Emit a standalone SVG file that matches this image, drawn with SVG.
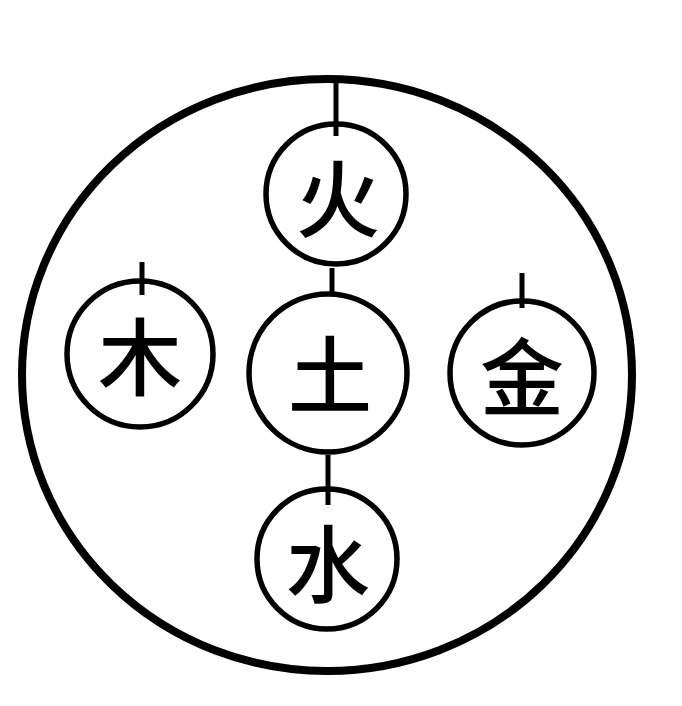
<svg xmlns="http://www.w3.org/2000/svg" width="682" height="706" viewBox="0 0 682 706">
<style>
.bg{fill:#fff}
.outer{fill:none;stroke:#000;stroke-width:8}
.node{fill:none;stroke:#000;stroke-width:5.5}
.lbl{font-family:"Noto Sans CJK SC","Noto Sans CJK JP",sans-serif;font-size:84px;font-weight:500;fill:#000;text-anchor:middle;dominant-baseline:central}
.link{stroke:#000;stroke-width:5;fill:none}
</style>
<rect class="bg" x="0" y="0" width="682" height="706"/>
<g id="outer"><ellipse class="outer" cx="327" cy="375" rx="305" ry="296"/></g>
<g id="connectors">
<line class="link" x1="336" y1="82" x2="336" y2="136"/>
<line class="link" x1="332" y1="268" x2="332" y2="295"/>
<line class="link" x1="328" y1="455" x2="328" y2="505"/>
<line class="link" x1="142" y1="262" x2="142" y2="295"/>
<line class="link" x1="522" y1="273" x2="522" y2="308"/>
</g>
<g id="fire"><circle class="node" cx="336" cy="194" r="70"/><text class="lbl" x="338" y="194">火</text></g>
<g id="earth"><circle class="node" cx="328" cy="373" r="79"/><text class="lbl" x="330" y="370">土</text></g>
<g id="wood"><circle class="node" cx="140" cy="354" r="73"/><text class="lbl" x="140" y="352">木</text></g>
<g id="metal"><circle class="node" cx="522" cy="373" r="72"/><text class="lbl" x="522" y="372">金</text></g>
<g id="water"><circle class="node" cx="327" cy="559" r="70"/><text class="lbl" x="328" y="559">水</text></g>
</svg>
